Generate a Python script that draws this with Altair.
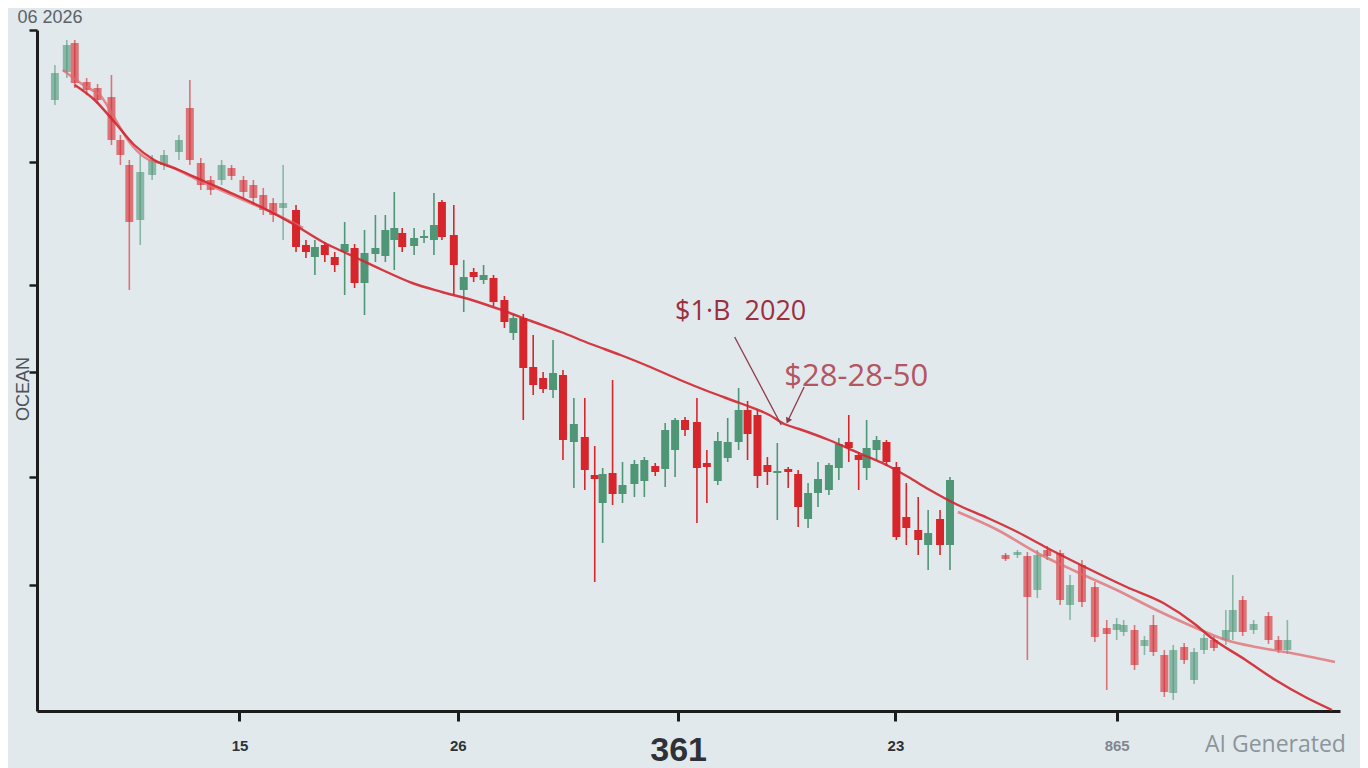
import altair as alt
import pandas as pd

# ---------------- candle data (x position, open, high, low, close) ----------------
x_pos = [50, 62, 70, 82, 93, 107, 116, 125, 136, 148, 160, 175, 186, 197, 207, 218, 228, 240, 250, 260,
         270, 280, 293, 303, 312, 322, 332, 342, 352, 362, 373, 383, 392, 400, 412, 422, 432, 440, 452, 462,
         472, 482, 492, 503, 512, 522, 532, 542, 552, 562, 573, 584, 594, 602, 612, 622, 634, 644, 655, 665,
         675, 685, 697, 707, 718, 728, 739, 748, 758, 768, 778, 789, 799, 809, 819, 830, 840, 850, 860, 868,
         878, 888, 898, 908, 920, 930, 942, 952, 1008, 1020, 1030, 1040, 1050, 1063, 1073, 1085, 1098, 1110,
         1120, 1127, 1138, 1148, 1157, 1168, 1177, 1188, 1198, 1208, 1218, 1230, 1237, 1247, 1258, 1273,
         1283, 1292]
open_p = [611, 639, 668, 629, 623, 614, 571, 546, 491, 536, 546, 559, 603, 548, 531, 531, 543, 531, 526, 516,
          508, 503, 501, 466, 454, 466, 454, 459, 463, 428, 457, 455, 471, 478, 465, 473, 471, 509, 476, 421,
          439, 431, 433, 411, 378, 393, 344, 333, 321, 336, 269, 274, 236, 208, 238, 217, 227, 230, 245, 242,
          261, 291, 289, 248, 230, 253, 269, 301, 296, 246, 238, 242, 237, 192, 218, 221, 243, 269, 256, 243,
          261, 269, 244, 194, 181, 166, 192, 166, 156, 156, 155, 121, 161, 158, 106, 146, 124, 83,
          81, 79, 81, 65, 86, 56, 18, 64, 31, 61, 71, 71, 79, 111, 81, 95,
          71, 61]
high_p = [646, 671, 671, 633, 627, 636, 576, 551, 556, 556, 561, 576, 631, 553, 535, 551, 546, 535, 531, 523,
          513, 546, 506, 471, 471, 469, 459, 489, 467, 481, 496, 496, 519, 483, 483, 481, 518, 511, 506, 451,
          443, 446, 436, 415, 397, 397, 376, 339, 371, 341, 313, 313, 265, 243, 331, 249, 251, 254, 248, 288,
          293, 294, 313, 261, 279, 293, 323, 310, 301, 254, 268, 244, 241, 228, 249, 248, 273, 296, 259, 291,
          275, 271, 249, 228, 214, 201, 201, 234, 158, 161, 159, 161, 165, 161, 136, 151, 129, 91,
          93, 91, 86, 75, 96, 61, 66, 68, 63, 77, 75, 101, 136, 115, 91, 99,
          75, 91]
low_p = [606, 633, 623, 616, 607, 566, 546, 421, 466, 531, 541, 551, 546, 521, 516, 526, 531, 513, 506, 496,
         489, 471, 459, 453, 436, 449, 439, 416, 423, 396, 449, 449, 441, 459, 456, 468, 456, 471, 416, 399,
         429, 427, 405, 383, 371, 291, 316, 318, 313, 251, 223, 221, 129, 168, 206, 208, 214, 214, 235, 224,
         234, 275, 188, 208, 226, 249, 261, 251, 223, 226, 191, 223, 184, 183, 204, 216, 231, 249, 221, 231,
         251, 245, 171, 166, 156, 141, 156, 141, 150, 153, 51, 113, 151, 106, 91, 104, 69, 21,
         71, 75, 41, 56, 55, 14, 11, 47, 27, 57, 60, 66, 71, 75, 77, 67,
         58, 57]
close_p = [638, 666, 628, 621, 611, 571, 556, 489, 539, 551, 556, 571, 551, 526, 521, 546, 535, 519, 513, 501,
           496, 508, 464, 459, 464, 456, 446, 467, 428, 458, 463, 481, 483, 464, 473, 475, 486, 474, 446, 434,
           434, 436, 409, 389, 393, 343, 326, 322, 338, 271, 287, 241, 232, 237, 217, 226, 247, 251, 239, 281,
           291, 281, 243, 244, 270, 269, 301, 277, 235, 239, 240, 239, 204, 218, 232, 246, 267, 263, 251, 263,
           271, 249, 174, 183, 171, 178, 166, 231, 152, 159, 114, 156, 155, 111, 126, 109, 74, 77,
           87, 86, 46, 71, 59, 19, 61, 51, 59, 73, 63, 81, 101, 79, 87, 71,
           61, 71]

# ---------------- moving averages ----------------
ma1_x = [70, 90, 110, 130, 150, 175, 200, 230, 260, 290, 320, 350, 380, 410, 440, 470, 500, 530, 560, 590,
         620, 650, 680, 710, 740, 770, 785, 800, 830, 860, 890, 910, 930, 960, 990, 1020, 1050, 1090, 1130,
         1167, 1200, 1213, 1250, 1280, 1310, 1337]
ma1_v = [626, 611, 589, 566, 551, 541, 530, 517, 503, 487, 469, 455, 441, 428, 419, 411, 401, 390, 379, 367,
         356, 344, 331, 319, 308, 296, 287, 282, 271, 258, 245, 234, 222, 206, 193, 179, 163, 143, 124,
         108, 86, 75, 51, 31, 14, 1]
ma2_x = [58, 80, 97, 110, 125, 140, 163, 190, 210, 240, 270, 300,
         960, 1000, 1040, 1080, 1120, 1160, 1200, 1230, 1260, 1290, 1340]
ma2_v = [641, 625, 614, 593, 569, 554, 546, 533, 524, 511, 498, 483,
         199, 181, 158, 139, 121, 101, 83, 71, 64, 59, 49]
ma2_seg = ["a"] * 12 + ["b"] * 11

# ---------------- axes ----------------
x_tick_values = [236, 456, 678, 897, 1120]
x_tick_labels = ["15", "26", "361", "23", "865"]
y_tick_values = [126, 234, 339, 426, 549, 681]

# ---------------- annotations ----------------
ann_x = [675, 785]
ann_v = [399, 334]
ann_text = ["$1\u00b7B\u00a0 2020", "$28-28-50"]
ann_kind = ["main", "second"]

arrow_x = [735, 805]
arrow_v = [374, 324]
arrow_x2 = [782, 789]
arrow_v2 = [286, 291]

head_x = [789]
head_v = [291]

corner_x = [45]
corner_v = [693]
corner_text = ["06 2026"]

side_x = [19]
side_v = [322]
side_text = ["OCEAN"]

mark_x = [1280]
mark_v = [-34]
mark_text = ["AI Generated"]

# ---------------- build ----------------
candles = pd.DataFrame({"x": x_pos, "open": open_p, "high": high_p, "low": low_p, "close": close_p})
ma1 = pd.DataFrame({"x": ma1_x, "v": ma1_v})
ma2 = pd.DataFrame({"x": ma2_x, "v": ma2_v, "seg": ma2_seg})
ann = pd.DataFrame({"x": ann_x, "v": ann_v, "t": ann_text, "k": ann_kind})
arrows = pd.DataFrame({"x": arrow_x, "v": arrow_v, "x2": arrow_x2, "v2": arrow_v2})
heads = pd.DataFrame({"x": head_x, "v": head_v})
corner = pd.DataFrame({"x": corner_x, "v": corner_v, "t": corner_text})
side = pd.DataFrame({"x": side_x, "v": side_v, "t": side_text})
wmark = pd.DataFrame({"x": mark_x, "v": mark_v, "t": mark_text})

RED = "#d7262b"
GREEN = "#4f9676"
AXIS = "#1c1c1c"

label_expr = ""
for tv, tl in zip(x_tick_values, x_tick_labels):
    label_expr += f"datum.value == {tv} ? '{tl}' : "
label_expr += "''"

BIG = f"datum.value == {x_tick_values[2]}"

x_scale = alt.Scale(domain=[37, 1340], nice=False, zero=False)
y_scale = alt.Scale(domain=[0, 681], nice=False, zero=False)

x_axis = alt.Axis(
    values=x_tick_values,
    labelExpr=label_expr,
    grid=False,
    domainColor=AXIS,
    domainWidth=3,
    tickColor=AXIS,
    tickWidth=3,
    tickSize=10,
    labelPadding={"condition": {"test": BIG, "value": 12}, "value": 17},
    labelFont="Liberation Sans Narrow, Liberation Sans, Arial",
    labelFontSize={"condition": {"test": BIG, "value": 34}, "value": 15},
    labelFontWeight="bold",
    labelColor={"condition": {"test": f"datum.value == {x_tick_values[4]}", "value": "#80878c"},
                "value": "#2e3236"},
    labelFlush=False,
    labelOverlap=False,
    title=None,
)
y_axis = alt.Axis(
    values=y_tick_values,
    labels=False,
    grid=False,
    domainColor=AXIS,
    domainWidth=3,
    tickColor=AXIS,
    tickWidth=2.5,
    tickSize=8,
    title=None,
)

fade = alt.condition("datum.x < 290 || datum.x > 990", alt.value(0.6), alt.value(1.0))
updown = alt.condition("datum.close >= datum.open", alt.value(GREEN), alt.value(RED))

base = alt.Chart(candles)
wicks = base.mark_rule(strokeWidth=1.6).encode(
    x=alt.X("x:Q", scale=x_scale, axis=x_axis),
    y=alt.Y("low:Q", scale=y_scale, axis=y_axis),
    y2="high:Q",
    color=updown,
    opacity=fade,
)
bodies = base.mark_bar(size=8).encode(
    x=alt.X("x:Q", scale=x_scale, axis=x_axis),
    y=alt.Y("open:Q", scale=y_scale, axis=y_axis),
    y2="close:Q",
    color=updown,
    opacity=fade,
)

ma2_line = alt.Chart(ma2).mark_line(strokeWidth=2.6, interpolate="monotone", color="#e06a6e", opacity=0.75).encode(
    x=alt.X("x:Q", scale=x_scale, axis=x_axis),
    y=alt.Y("v:Q", scale=y_scale, axis=y_axis),
    detail="seg:N",
)
ma1_line = alt.Chart(ma1).mark_line(strokeWidth=2.4, interpolate="monotone", color="#d3262f", opacity=0.9).encode(
    x=alt.X("x:Q", scale=x_scale, axis=x_axis),
    y=alt.Y("v:Q", scale=y_scale, axis=y_axis),
)

arrow_lines = alt.Chart(arrows).mark_rule(strokeWidth=1.3, color="#8c3a46").encode(
    x=alt.X("x:Q", scale=x_scale, axis=x_axis),
    y=alt.Y("v:Q", scale=y_scale, axis=y_axis),
    x2="x2:Q",
    y2="v2:Q",
)
arrow_heads = alt.Chart(heads).mark_point(shape="triangle", filled=True, size=45, angle=205,
                                          color="#8c3a46", opacity=1).encode(
    x=alt.X("x:Q", scale=x_scale, axis=x_axis),
    y=alt.Y("v:Q", scale=y_scale, axis=y_axis),
)

ann_text_layer = alt.Chart(ann).mark_text(align="left", baseline="middle",
                                          font="Open Sans, Noto Sans, sans-serif").encode(
    x=alt.X("x:Q", scale=x_scale, axis=x_axis),
    y=alt.Y("v:Q", scale=y_scale, axis=y_axis),
    text="t:N",
    size=alt.condition("datum.k == 'main'", alt.value(27), alt.value(31)),
    color=alt.condition("datum.k == 'main'", alt.value("#9a2f3d"), alt.value("#b35563")),
)

corner_layer = alt.Chart(corner).mark_text(align="center", baseline="middle", fontSize=18,
                                           font="Liberation Sans, Arial", color="#5b6368").encode(
    x=alt.X("x:Q", scale=x_scale, axis=x_axis),
    y=alt.Y("v:Q", scale=y_scale, axis=y_axis),
    text="t:N",
)
side_layer = alt.Chart(side).mark_text(align="center", baseline="middle", fontSize=18, angle=270,
                                       font="Liberation Sans, Arial", color="#4a545a").encode(
    x=alt.X("x:Q", scale=x_scale, axis=x_axis),
    y=alt.Y("v:Q", scale=y_scale, axis=y_axis),
    text="t:N",
)
wmark_layer = alt.Chart(wmark).mark_text(align="center", baseline="middle", fontSize=23,
                                         font="Open Sans, Lato, sans-serif", color="#8b959b").encode(
    x=alt.X("x:Q", scale=x_scale, axis=x_axis),
    y=alt.Y("v:Q", scale=y_scale, axis=y_axis),
    text="t:N",
)

chart = alt.layer(
    wicks, bodies, ma2_line, ma1_line, arrow_lines, arrow_heads,
    ann_text_layer, corner_layer, side_layer, wmark_layer,
).properties(
    width=1303,
    height=681,
    autosize=alt.AutoSizeParams(type="none"),
    padding={"left": 29, "top": 22, "right": 20, "bottom": 57},
    background="#e2e9ed",
).configure_view(stroke=None)

chart.save("out.html", embed_options={"renderer": "svg", "actions": False})
